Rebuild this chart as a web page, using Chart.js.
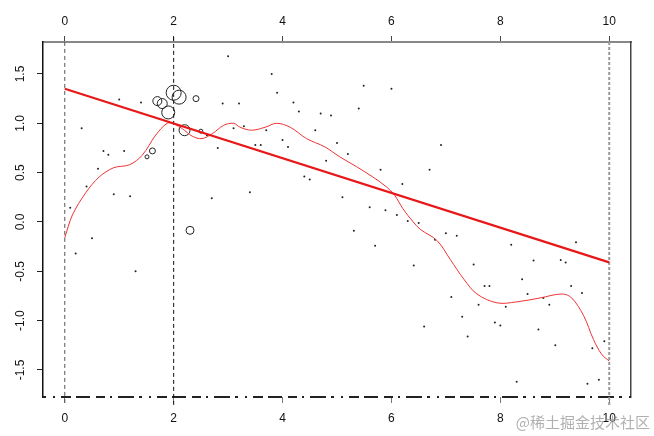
<!DOCTYPE html>
<html>
<head>
<meta charset="utf-8">
<script src="https://cdn.jsdelivr.net/npm/chart.js@4"></script>
<style>
html, body { margin: 0; padding: 0; background: #fff; }
#wrap { width: 654px; height: 436px; }
</style>
</head>
<body>
<div id="wrap"><canvas id="chart"></canvas></div>
<script>
// small dots
var dotX = [3.0, 1.0, 1.4, 2.9, 3.2, 0.31, 3.1, 2.61, 2.81, 0.71, 0.8, 1.09, 0.61, 0.40, 0.90, 1.20, 2.70, 0.10, 0.50, 0.20, 1.30,
    3.8, 5.49, 6.0, 3.9, 4.2, 4.3, 5.4, 4.7, 4.89, 3.29, 3.7, 4.6, 3.5, 3.6, 4.0, 4.1, 5.0, 5.2, 4.8, 5.8, 6.7, 6.91, 4.4, 4.5, 6.2, 3.4, 5.1, 5.6, 5.89, 6.1, 6.3,
    6.5, 5.31, 5.7, 6.8, 6.41, 6.6,
    7.0, 7.2, 8.2, 9.39, 7.51, 8.61, 9.11, 9.2, 8.4, 7.71, 7.8, 9.3, 9.5, 8.5, 7.1, 8.79, 7.6, 8.1, 8.9, 7.3, 7.9, 8.0, 8.7, 7.4, 9.01, 9.69, 9.91, 8.3, 9.6, 9.81];
var dotY = [1.68, 1.24, 1.21, 1.20, 1.20, 0.95, 0.95, 0.88, 0.75, 0.72, 0.68, 0.72, 0.54, 0.36, 0.28, 0.26, 0.24, 0.145, -0.165, -0.32, -0.50,
    1.50, 1.38, 1.35, 1.31, 1.21, 1.12, 1.15, 1.10, 1.08, 0.97, 0.93, 0.93, 0.78, 0.78, 0.83, 0.76, 0.80, 0.69, 0.62, 0.53, 0.53, 0.78, 0.46, 0.43, 0.385, 0.30, 0.25, 0.15, 0.12, 0.07, 0.01,
    -0.01, -0.09, -0.24, -0.18, -0.44, -1.06,
    -0.115, -0.14, -0.23, -0.205, -0.43, -0.39, -0.385, -0.41, -0.58, -0.65, -0.65, -0.65, -0.72, -0.73, -0.76, -0.77, -0.84, -0.86, -0.84, -0.96, -1.02, -1.05, -1.09, -1.16, -1.25, -1.28, -1.21, -1.62, -1.64, -1.60];

// open circles, size in px
var circX = [1.51, 1.61, 1.70, 1.79, 1.90, 2.0, 2.1, 2.2, 2.3, 2.41, 2.5];
var circY = [0.66, 0.72, 1.225, 1.20, 1.11, 1.31, 1.265, 0.93, -0.085, 1.25, 0.92];
var circR = [2, 3, 4.5, 5, 6.5, 7.5, 7, 5.5, 4, 3, 2];

// straight fit
var fitX = [0, 10];
var fitY = [1.35, -0.41];

// smooth curve
var curveX = [0, 0.14, 0.39, 0.63, 0.90, 1.19, 1.42, 1.67, 1.88, 2.0, 2.16, 2.34, 2.52, 2.71, 2.92, 3.10, 3.22, 3.43, 3.68, 3.89, 4.14, 4.44, 4.78, 5.05, 5.36, 5.66, 5.91, 6.06, 6.21, 6.40, 6.53, 6.84, 7.08, 7.33, 7.57, 7.94, 8.30, 8.73, 9.13, 9.31, 9.53, 9.71, 9.86, 10];
var curveY = [-0.16, 0.07, 0.30, 0.455, 0.55, 0.58, 0.675, 0.88, 1.00, 0.995, 0.945, 0.87, 0.845, 0.895, 0.98, 1.00, 0.96, 0.93, 0.96, 1.00, 0.96, 0.845, 0.76, 0.66, 0.56, 0.455, 0.355, 0.27, 0.135, 0.0, -0.075, -0.19, -0.38, -0.58, -0.73, -0.82, -0.81, -0.77, -0.73, -0.77, -0.95, -1.19, -1.34, -1.41];

// vertical reference lines
var vlineX = [0, 2, 10];

var xTicks = [0, 2, 4, 6, 8, 10];
var yTicks = [-1.5, -1.0, -0.5, 0.0, 0.5, 1.0, 1.5];

var xMin = -0.4, xMax = 10.4;
var yMin = -1.774, yMax = 1.824;

function pts(xs, ys) {
    var out = [];
    for (var i = 0; i < xs.length; i++) {
        out.push({x: xs[i], y: ys[i]});
    }
    return out;
}

var fontFam = '"Liberation Sans", Arial, sans-serif';

var vlineStyle = [
    {color: '#555', width: 1, dash: [4, 3], lo: yMin - 0.06, hi: yMax},
    {color: '#111', width: 1, dash: [4, 3], lo: yMin - 0.08, hi: yMax + 0.06},
    {color: '#999', width: 2, dash: [3, 2], lo: yMin - 0.08, hi: yMax}
];

var datasets = [];
vlineX.forEach(function(v, i) {
    datasets.push({
        type: 'line',
        data: [{x: v, y: vlineStyle[i].lo}, {x: v, y: vlineStyle[i].hi}],
        borderColor: vlineStyle[i].color,
        borderWidth: vlineStyle[i].width,
        borderDash: vlineStyle[i].dash,
        pointRadius: 0,
        clip: false,
        order: 5
    });
});
// dash-dot bottom frame line
datasets.push({
    type: 'line',
    data: [{x: xMin, y: yMin}, {x: xMax, y: yMin}],
    borderColor: '#222',
    borderWidth: 2,
    borderDash: [3, 7, 2, 6, 10, 5, 14, 6, 9, 5, 2, 6, 16, 5],
    pointRadius: 0,
    clip: false,
    order: 6
});
datasets.push({
    type: 'scatter',
    data: pts(dotX, dotY),
    backgroundColor: '#222',
    borderWidth: 0,
    pointRadius: 1,
    order: 4
});
datasets.push({
    type: 'scatter',
    data: pts(circX, circY),
    backgroundColor: 'rgba(0,0,0,0)',
    borderColor: '#222',
    borderWidth: 1,
    pointRadius: circR,
    order: 3
});
datasets.push({
    type: 'line',
    data: pts(curveX, curveY),
    borderColor: '#ee3333',
    borderWidth: 1,
    tension: 0.35,
    pointRadius: 0,
    order: 2
});
datasets.push({
    type: 'line',
    data: pts(fitX, fitY),
    borderColor: '#e81818',
    borderWidth: 2.2,
    pointRadius: 0,
    order: 1
});

function setTicks(list) {
    return function(scale) {
        scale.ticks = list.map(function(v) { return {value: v}; });
    };
}

var extras = {
    id: 'extras',
    afterDraw: function(chart) {
        var ctx = chart.ctx;
        var y = chart.scales.y;
        ctx.save();
        ctx.fillStyle = '#111';
        ctx.font = '12px ' + fontFam;
        ctx.textAlign = 'center';
        ctx.textBaseline = 'middle';
        yTicks.forEach(function(v) {
            ctx.save();
            ctx.translate(21, y.getPixelForValue(v));
            ctx.rotate(-Math.PI / 2);
            ctx.fillText(v.toFixed(1), 0, 0);
            ctx.restore();
        });
        // watermark
        ctx.font = '15px "Noto Sans CJK SC", sans-serif';
        ctx.textAlign = 'right';
        ctx.textBaseline = 'alphabetic';
        ctx.fillStyle = 'rgba(150,150,150,0.75)';
        ctx.fillText('@稀土掘金技术社区', 650, 428);
        ctx.restore();
    }
};

new Chart(document.getElementById('chart'), {
    type: 'scatter',
    data: {datasets: datasets},
    options: {
        animation: false,
        responsive: true,
        maintainAspectRatio: false,
        devicePixelRatio: 1,
        layout: {padding: {left: 0, right: 23, top: 0, bottom: 0}},
        plugins: {legend: {display: false}, tooltip: {enabled: false}},
        scales: {
            x: {
                type: 'linear', position: 'bottom', min: xMin, max: xMax,
                afterBuildTicks: setTicks(xTicks),
                afterFit: function(s) { s.height = 39; },
                grid: {drawOnChartArea: false, drawTicks: true, tickLength: 6, color: '#777'},
                border: {display: false},
                ticks: {color: '#111', padding: 8, font: {family: fontFam, size: 12}, maxRotation: 0}
            },
            x2: {
                type: 'linear', position: 'top', min: xMin, max: xMax,
                afterBuildTicks: setTicks(xTicks),
                afterFit: function(s) { s.height = 42; },
                grid: {drawOnChartArea: false, drawTicks: true, tickLength: 6, color: '#444'},
                border: {display: true, color: '#888', width: 2},
                ticks: {color: '#111', padding: 7, font: {family: fontFam, size: 12}, maxRotation: 0}
            },
            y: {
                type: 'linear', position: 'left', min: yMin, max: yMax,
                afterBuildTicks: setTicks(yTicks),
                afterFit: function(s) { s.width = 43; },
                grid: {drawOnChartArea: false, drawTicks: true, tickLength: 6, color: '#222'},
                border: {display: true, color: '#111', width: 1.5},
                ticks: {callback: function() { return ''; }}
            },
            y2: {
                type: 'linear', position: 'right', min: yMin, max: yMax,
                afterFit: function(s) { s.width = 0; },
                grid: {drawOnChartArea: false, drawTicks: false},
                border: {display: true, color: '#444', width: 1.5},
                ticks: {display: false}
            }
        }
    },
    plugins: [extras]
});
</script>
</body>
</html>
